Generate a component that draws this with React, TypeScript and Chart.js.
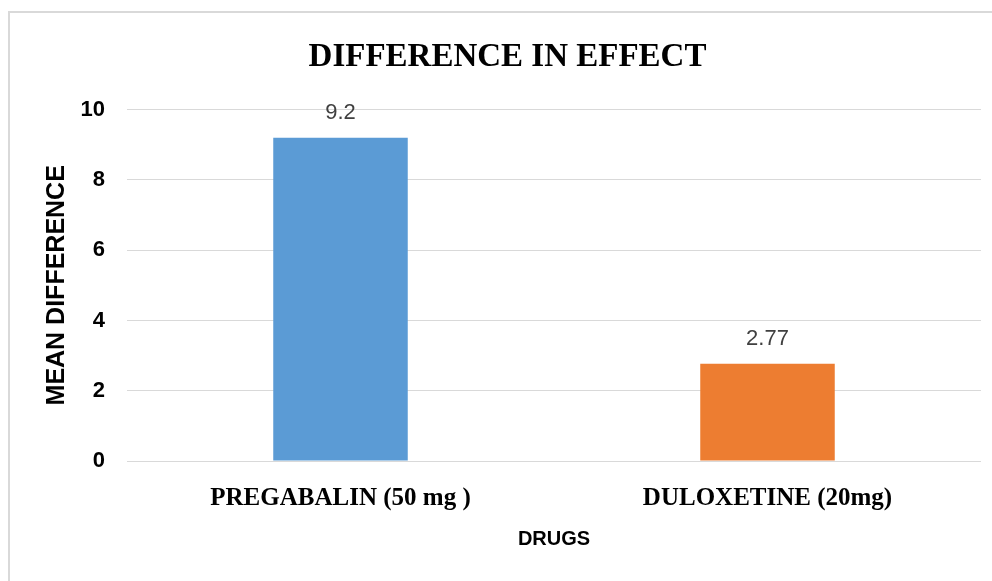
import React, { useEffect, useRef } from "react";
import { Chart, registerables } from "chart.js";

Chart.register(...registerables);

const categories = ["PREGABALIN (50 mg )", "DULOXETINE (20mg)"];
const meanDifference = [9.2, 2.77];
const valueLabels = ["9.2", "2.77"];
const barColors = ["#5B9BD5", "#ED7D31"];
const yTicks = [0, 2, 4, 6, 8, 10];

const frameAndLabels = {
  id: "frameAndLabels",
  beforeDraw(chart: any) {
    const ctx = chart.ctx;
    ctx.save();
    ctx.fillStyle = "#ffffff";
    ctx.fillRect(0, 0, chart.width, chart.height);
    ctx.strokeStyle = "#d9d9d9";
    ctx.lineWidth = 2;
    ctx.strokeRect(9, 12, chart.width + 40, chart.height + 40);
    ctx.restore();
  },
  afterDatasetsDraw(chart: any) {
    const ctx = chart.ctx;
    const meta = chart.getDatasetMeta(0);
    ctx.save();
    ctx.font = "22px 'Liberation Sans', Arial, sans-serif";
    ctx.fillStyle = "#404040";
    ctx.textAlign = "center";
    ctx.textBaseline = "middle";
    meta.data.forEach((bar: any, i: number) => {
      ctx.fillText(valueLabels[i], bar.x, bar.y - 25);
    });
    ctx.restore();
  },
};

export default function App() {
  const ref = useRef<HTMLCanvasElement>(null);
  useEffect(() => {
    if (!ref.current) return;
    const chart = new Chart(ref.current, {
      type: "bar",
      data: {
        labels: categories,
        datasets: [
          {
            data: meanDifference,
            backgroundColor: barColors,
            barPercentage: 0.315,
            categoryPercentage: 1,
          },
        ],
      },
      options: {
        responsive: false,
        animation: false,
        layout: { padding: { left: 34, right: 11, top: 0, bottom: 30 } },
        plugins: {
          legend: { display: false },
          tooltip: { enabled: false },
          title: {
            display: true,
            text: "DIFFERENCE IN EFFECT",
            color: "#000000",
            font: { family: "'Liberation Serif', 'Times New Roman', serif", size: 33, weight: "bold" },
            padding: { top: 38, bottom: 32 },
          },
        },
        scales: {
          x: {
            grid: { display: false, drawTicks: false },
            border: { display: false },
            ticks: {
              color: "#000000",
              padding: 23,
              font: { family: "'Liberation Serif', 'Times New Roman', serif", size: 25, weight: "bold" },
            },
            title: {
              display: true,
              text: "DRUGS",
              color: "#000000",
              font: { family: "'Liberation Sans', Arial, sans-serif", size: 20, weight: "bold" },
              padding: 0,
            },
            afterFit(scale: any) {
              scale.height = 90;
            },
          },
          y: {
            min: 0,
            max: 10,
            afterBuildTicks(scale: any) {
              scale.ticks = yTicks.map((v) => ({ value: v }));
            },
            grid: { color: "#d9d9d9", lineWidth: 1, drawTicks: false },
            border: { display: false },
            ticks: {
              color: "#000000",
              padding: 22,
              font: { family: "'Liberation Sans', Arial, sans-serif", size: 22, weight: "bold" },
            },
            title: {
              display: true,
              text: "MEAN DIFFERENCE",
              color: "#000000",
              font: { family: "'Liberation Sans', Arial, sans-serif", size: 25, weight: "bold" },
              padding: { top: 8, bottom: 0 },
            },
            afterFit(scale: any) {
              scale.width = 93;
            },
          },
        },
      },
      plugins: [frameAndLabels],
    });
    return () => chart.destroy();
  }, []);
  return (
    <div style={{ position: "fixed", left: 0, top: 0, width: 992, height: 581, background: "#fff" }}>
      <canvas ref={ref} width={992} height={581} style={{ display: "block" }} />
    </div>
  );
}
